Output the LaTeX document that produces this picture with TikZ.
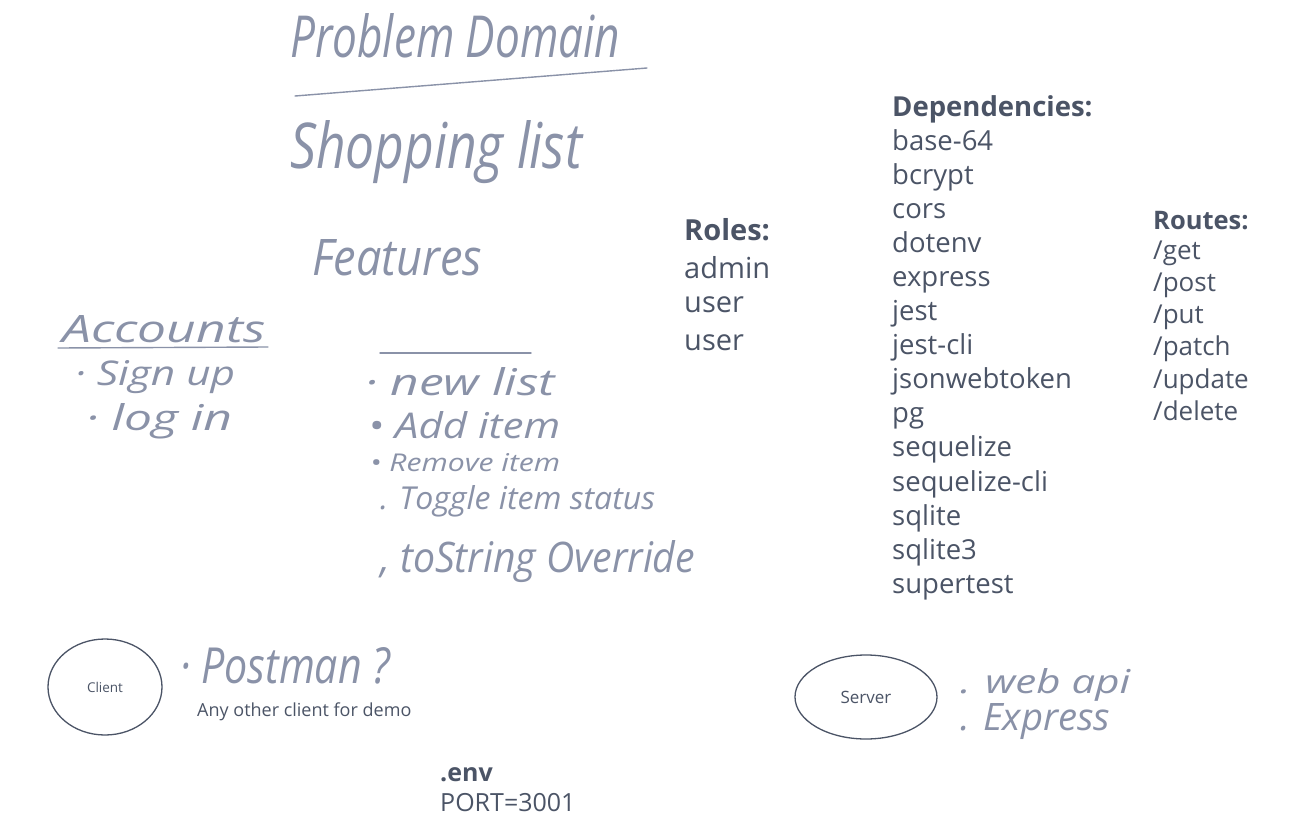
\documentclass[tikz,border=0pt]{standalone}
\usepackage{fontspec}
\setmainfont{Open Sans}
\usetikzlibrary{shapes.geometric}
\definecolor{ink}{HTML}{4B5466}
\definecolor{pen}{HTML}{8A92A8}
\newcommand{\hw}[3]{\resizebox{#1pt}{#2pt}{\itshape\fontsize{40}{44}\selectfont #3}}
\tikzset{
  typed/.style={anchor=base west, text=ink, inner sep=0pt, font=\fontsize{27.5}{30}\selectfont},
  head/.style={typed, font=\bfseries\fontsize{27.5}{30}\selectfont},
  role/.style={typed, font=\fontsize{29}{32}\selectfont},
  rolehead/.style={typed, font=\bfseries\fontsize{29}{32}\selectfont},
  route/.style={typed, font=\fontsize{26}{28}\selectfont},
  routehead/.style={typed, font=\bfseries\fontsize{25.5}{28}\selectfont},
  hand/.style={anchor=base west, text=pen, inner sep=0pt},
  penline/.style={draw=pen, line width=1.4pt, line cap=round},
  blob/.style={ellipse, draw=ink, line width=1.3pt, inner sep=0pt, text=ink}
}
\begin{document}
\begin{tikzpicture}[x=1pt,y=-1pt]
\useasboundingbox[fill=white] (0,0) rectangle (1302,819);

% handwritten title
\node[hand] (pd) at (290,57) {\hw{330}{44}{Problem Domain}};
\coordinate (pdl) at (295,96);
\coordinate (pdr) at (647,68);
\draw[penline] (pdl) -- (pdr);
\node[hand] (sl) at (290,168) {\hw{292}{48}{Shopping list}};
\node[hand] (feat) at (312,275) {\hw{170}{36}{Features}};

% accounts
\node[hand] (acc) at (62,342) {\hw{203}{27}{Accounts}};
\coordinate (accl) at (58,348);
\coordinate (accr) at (268,347);
\draw[penline] (accl) -- (accr);
\node[hand] (sign) at (75,385) {\hw{160}{25}{· Sign up}};
\node[hand] (login) at (86,430) {\hw{146}{27}{· log in}};

% feature list
\coordinate (fl) at (380,353);
\coordinate (fr) at (531,353);
\draw[penline] (fl) -- (fr);
\node[hand] (newl) at (365,395) {\hw{190}{28}{· new list}};
\node[hand] (addi) at (368,438) {\hw{192}{27}{• Add item}};
\node[hand] (remi) at (370,471) {\hw{190}{18}{• Remove item}};
\node[hand] (togg) at (380,509) {\hw{275}{24}{. Toggle item status}};
\node[hand] (tost) at (380,572) {\hw{315}{32}{, toString Override}};

% roles
\node[rolehead] (roles) at (684,240) {Roles:};
\node[role] (r1) at (684,278) {admin};
\node[role] (r2) at (684,312) {user};
\node[role] (r3) at (684,350) {user};

% dependencies
\node[head] (deps) at (892,116) {Dependencies:};
\foreach \t [count=\i from 0] in {base-64,bcrypt,cors,dotenv,express,jest,jest-cli,jsonwebtoken,pg,sequelize,sequelize-cli,sqlite,sqlite3,supertest}{
  \node[typed] (d\i) at (892,{150+34.1*\i}) {\t};
}

% routes
\node[routehead] (routes) at (1153,229) {Routes:};
\foreach \t [count=\i from 0] in {/get,/post,/put,/patch,/update,/delete}{
  \node[route] (rt\i) at (1153,{259+32.3*\i}) {\t};
}

% client
\node[blob, minimum width=114pt, minimum height=96pt, font=\fontsize{13.5}{15}\selectfont] (client) at (105,687) {Client};
\node[hand] (postman) at (180,683) {\hw{210}{36}{· Postman ?}};
\node[typed, font=\fontsize{18}{20}\selectfont] (anyc) at (197,716) {Any other client for demo};

% server
\node[blob, minimum width=142pt, minimum height=84pt, font=\fontsize{17}{19}\selectfont] (server) at (866,697) {Server};
\node[hand] (webapi) at (960,693) {\hw{170}{25}{. web api}};
\node[hand] (expr) at (960,730) {\hw{150}{27}{. Express}};

% env
\node[typed, font=\bfseries\fontsize{25}{28}\selectfont] (env) at (440,781) {.env};
\node[typed, font=\fontsize{25}{28}\selectfont] (port) at (440,811) {PORT=3001};
\end{tikzpicture}
\end{document}
